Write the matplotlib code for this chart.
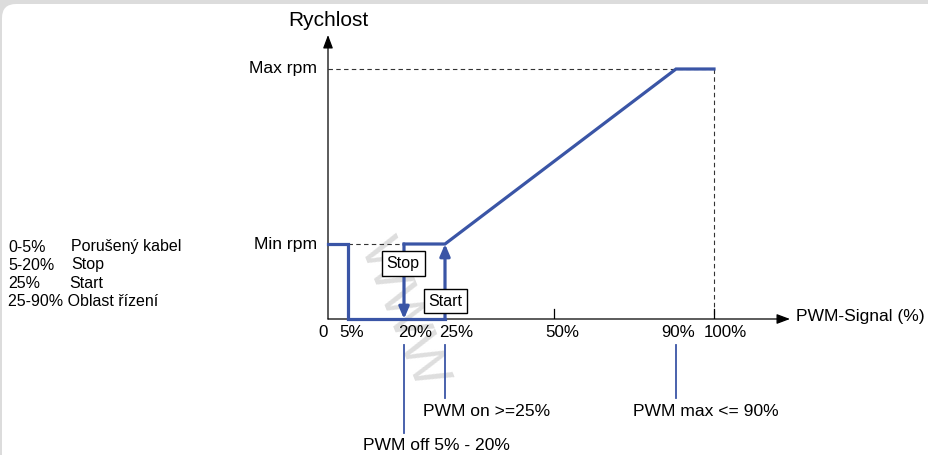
import numpy as np
import matplotlib.pyplot as plt
from matplotlib.patches import FancyBboxPatch
from matplotlib.transforms import IdentityTransform

plt.rcParams['font.family'] = ['Liberation Sans', 'DejaVu Sans']

# schematic data (PWM % -> relative speed)
min_rpm = 0.3
max_rpm = 1.0
curve_x = [0, 5, 5, 25]
curve_y = [min_rpm, min_rpm, 0, 0]
ramp_x = [20, 25, 90, 100]
ramp_y = [min_rpm, min_rpm, max_rpm, max_rpm]
tick_vals = [0, 5, 20, 25, 50, 90, 100]
tick_text = ['0', '5%', '20%', '25%', '50%', '90%', '100%']
legend_left = ['0-5%', '5-20%', '25%', '25-90%']
legend_right = ['Porušený kabel', 'Stop', 'Start', 'Oblast řízení']

# the x axis of the sketch is not linear, map it piecewise
pct_nodes = [0, 5, 20, 25, 50, 90, 100, 120]
pix_nodes = [328, 348, 404, 445, 554, 676, 714, 790]


def fwd(x):
    return np.interp(x, pct_nodes, pix_nodes)


def inv(p):
    return np.interp(p, pix_nodes, pct_nodes)


W, H = 929, 455
fig = plt.figure(figsize=(W / 100, H / 100), dpi=100)
fig.patch.set_facecolor('#dcdcdc')
panel = FancyBboxPatch((2, -20), 960, H - 4 + 20, boxstyle='round,pad=0,rounding_size=14',
                       transform=IdentityTransform(), facecolor='white', edgecolor='none',
                       zorder=-10)
fig.patches.append(panel)

ax = fig.add_axes([328 / W, (H - 319) / H, (790 - 328) / W, (319 - 35) / H])
ax.set_xscale('function', functions=(fwd, inv))
ax.set_xlim(0, 120)
ax.set_ylim(0, 1.136)
ax.axis('off')

blue = '#3a55a6'
lw = 2.3

# watermark
ax.text(inv(402), 0.02, 'WWW', rotation=-68, fontsize=40, color='#dedede', ha='center',
        va='center', zorder=0, clip_on=False)

# axes with arrows
ax.annotate('', xy=(120, 0), xytext=(0, 0),
            arrowprops=dict(arrowstyle='-|>,head_length=0.8,head_width=0.3', color='black', lw=0.9,
                            shrinkA=0, shrinkB=0))
ax.annotate('', xy=(0, 1.136), xytext=(0, 0),
            arrowprops=dict(arrowstyle='-|>,head_length=0.8,head_width=0.3', color='black', lw=0.9,
                            shrinkA=0, shrinkB=0))

# dashed guides
ax.plot([0, 100], [max_rpm, max_rpm], ls=(0, (4, 3)), color='#333333', lw=0.8)
ax.plot([100, 100], [max_rpm, 0], ls=(0, (4, 3)), color='#333333', lw=0.8)
ax.plot([5, 20], [min_rpm, min_rpm], ls=(0, (4, 3)), color='#333333', lw=0.8)

# small ticks
for v in [50, 100]:
    ax.plot([v, v], [0, 0.04], color='black', lw=0.9)

# curve
ax.plot(curve_x, curve_y, color=blue, lw=lw, solid_joinstyle='miter', zorder=4, clip_on=False)
ax.plot(ramp_x, ramp_y, color=blue, lw=lw, solid_joinstyle='miter', zorder=4, clip_on=False)
arr = dict(arrowstyle='-|>,head_length=0.7,head_width=0.3', color=blue, lw=lw, shrinkA=0, shrinkB=0)
ax.annotate('', xy=(20, 0), xytext=(20, min_rpm), arrowprops=arr, zorder=4)
ax.annotate('', xy=(25, min_rpm), xytext=(25, 0), arrowprops=arr, zorder=4)

box = dict(boxstyle='square,pad=0.3', facecolor='white', edgecolor='black', lw=1)
ax.text(19.8, 0.222, 'Stop', ha='center', va='center', fontsize=11.5, bbox=box, zorder=5)
ax.text(25.1, 0.072, 'Start', ha='center', va='center', fontsize=11.5, bbox=box, zorder=5)

# tick labels
label_dx = [-5, 4, 11, 11, 8, 2, 11]
for v, t, dx in zip(tick_vals, tick_text, label_dx):
    ax.annotate(t, (v, 0), xytext=(dx, -6), textcoords='offset pixels', ha='center', va='top',
                fontsize=12.2, annotation_clip=False)

# leader lines below the axis
ax.plot([20, 20], [-0.104, -0.456], color=blue, lw=1.3, clip_on=False)
ax.plot([25, 25], [-0.104, -0.316], color=blue, lw=1.3, clip_on=False)
ax.plot([90, 90], [-0.104, -0.316], color=blue, lw=1.3, clip_on=False)
ax.text(inv(423), -0.368, 'PWM on >=25%', ha='left', va='center', fontsize=12.6, clip_on=False)
ax.text(inv(633), -0.368, 'PWM max <= 90%', ha='left', va='center', fontsize=12.6, clip_on=False)
ax.text(inv(363), -0.504, 'PWM off 5% - 20%', ha='left', va='center', fontsize=12.6, clip_on=False)

# axis titles
ax.annotate('Max rpm', (0, max_rpm), xytext=(-11, 0), textcoords='offset pixels', ha='right',
            va='center', fontsize=12.6, annotation_clip=False)
ax.annotate('Min rpm', (0, min_rpm), xytext=(-11, 0), textcoords='offset pixels', ha='right',
            va='center', fontsize=12.6, annotation_clip=False)
ax.annotate('Rychlost', (0, 1.136), xytext=(0, 14), textcoords='offset pixels', ha='center',
            va='center', fontsize=15, annotation_clip=False)
ax.annotate('PWM-Signal (%)', (120, 0), xytext=(6, 2), textcoords='offset pixels', ha='left',
            va='center', fontsize=12.6, annotation_clip=False)

# legend on the left
for i, (a, b) in enumerate(zip(legend_left, legend_right)):
    y = H - 247 - i * 18
    if i == 3:
        fig.text(8 / W, y / H, a + ' ' + b, ha='left', va='center', fontsize=11.5)
    else:
        fig.text(8 / W, y / H, a, ha='left', va='center', fontsize=11.5)
        fig.text((71 if i < 2 else 69) / W, y / H, b, ha='left', va='center', fontsize=11.5)

fig.savefig('out.png', dpi=100, facecolor=fig.get_facecolor())
